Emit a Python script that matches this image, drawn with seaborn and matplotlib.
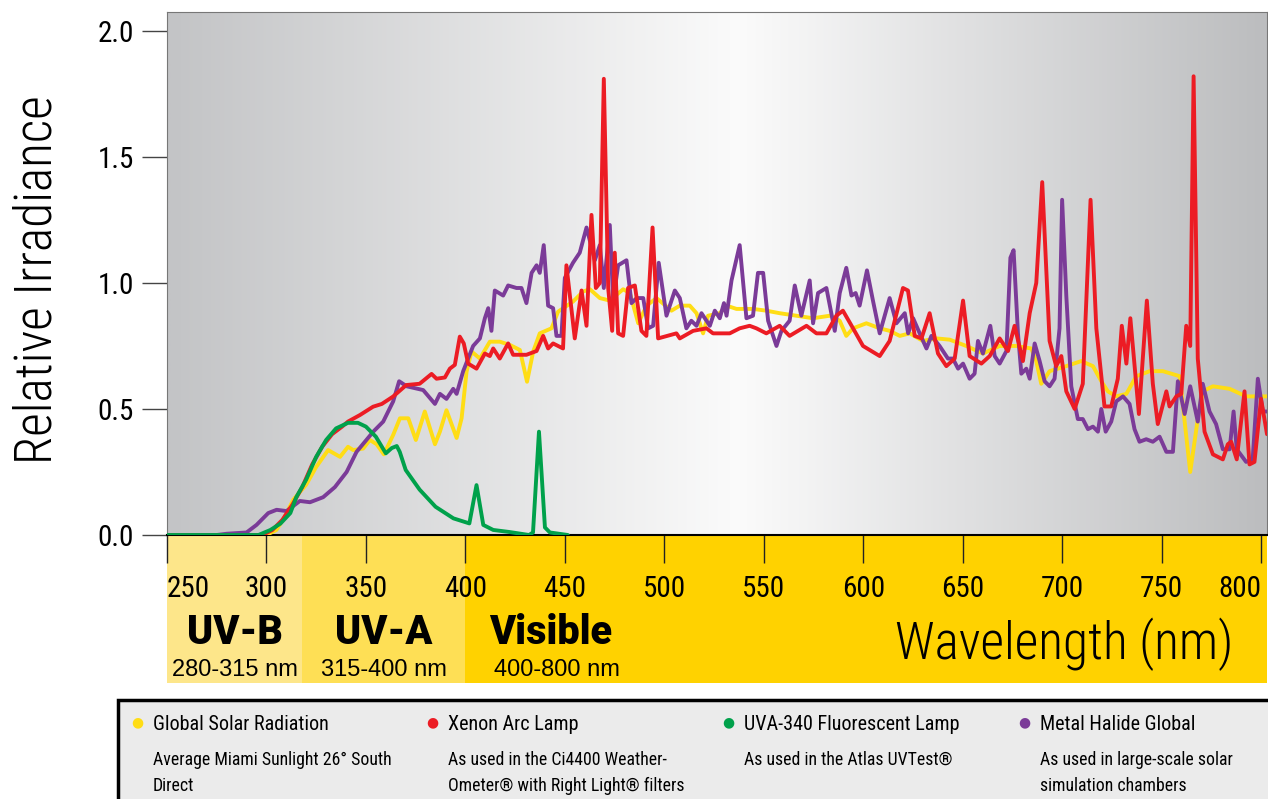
import numpy as np
import pandas as pd
import matplotlib
matplotlib.use("Agg")
import matplotlib.pyplot as plt
import seaborn as sns
from matplotlib import font_manager
from matplotlib.colors import LinearSegmentedColormap
from matplotlib.patches import Rectangle

# -------------------------------
# Data
# -------------------------------
solar_wl = [250, 300, 305, 309, 313.5, 320, 325, 331, 337, 341, 343.6, 348.6, 352, 355.4, 359, 363.7,
            367.1, 371.3, 375.1, 379.6, 384.7, 387.2, 390.5, 395.6, 398.1, 400.6, 403.1, 407.3, 412.3,
            417.3, 422.4, 427.4, 431, 434.1, 437.4, 443.3, 446.6, 454.1, 459.2, 462.6, 467.6, 472.6,
            479.3, 482.7, 486.9, 491.1, 496.1, 503.6, 507.8, 512.8, 516.2, 519.5, 522, 527.9, 531.3,
            536.3, 544.6, 551.3, 558, 566.4, 574.8, 583.2, 588.2, 591.5, 594.9, 601.6, 608.3, 613.3,
            618.4, 623.4, 630, 636.8, 643.5, 651.8, 660.2, 668.6, 677, 684.5, 687, 689.5, 693.7, 702.1,
            709.6, 715.5, 719.7, 723, 727.2, 732.3, 737.3, 744, 750.7, 759.1, 761.6, 764.4, 768.2,
            770.7, 775.8, 784.2, 792.5, 803]
solar_val = [0, 0, 0.02, 0.07, 0.14, 0.2, 0.27, 0.337, 0.31, 0.35, 0.337, 0.343, 0.377, 0.36, 0.32, 0.397,
             0.463, 0.463, 0.377, 0.49, 0.36, 0.41, 0.495, 0.385, 0.463, 0.648, 0.728, 0.70, 0.767,
             0.767, 0.754, 0.734, 0.608, 0.728, 0.80, 0.82, 0.886, 0.926, 0.966, 0.975, 0.94, 0.93,
             0.975, 0.96, 0.84, 0.91, 0.94, 0.89, 0.91, 0.91, 0.88, 0.80, 0.87, 0.88, 0.91,
             0.897, 0.897, 0.89, 0.88, 0.87, 0.86, 0.87, 0.85, 0.79, 0.82, 0.84, 0.82, 0.81,
             0.79, 0.80, 0.77, 0.78, 0.775, 0.75, 0.72, 0.75, 0.75, 0.74, 0.69, 0.60, 0.65, 0.67,
             0.69, 0.67, 0.61, 0.57, 0.55, 0.56, 0.63, 0.65, 0.65, 0.63, 0.45, 0.25, 0.46,
             0.57, 0.59, 0.58, 0.55, 0.55]

xenon_wl = [250, 298, 303, 308, 313, 318, 323, 328, 333, 338, 341, 347, 353.6, 358, 363.6, 370.3, 377,
            383, 385.5, 389.7, 392.2, 394.7, 397.2, 399.2, 401.4, 405.6, 409.8, 412.3, 414, 417.3,
            421.5, 424, 430.7, 435.8, 439.1, 441.6, 444.1, 449.1, 450.8, 455, 458.4, 460.9, 463.4,
            465.6, 467.6, 469.6, 471.8, 473.8, 475.1, 476.8, 479.3, 481.8, 485.2, 488.5, 491, 494.1,
            496.9, 506.1, 507.8, 514.5, 521.2, 524.5, 532.9, 537.9, 542.9, 546.3, 551.3, 558, 563,
            571.5, 576.5, 581.5, 586.5, 589.8, 594.9, 599.9, 608.3, 613.3, 620, 622.5, 625.9, 629.3,
            633.4, 637.6, 641.8, 646, 650.2, 653.5, 659.4, 663.6, 668.6, 672.8, 676.1, 680.3, 683.7,
            687, 690, 693.7, 697, 699.6, 702.1, 706.3, 710.4, 714.3, 717.2, 721.3, 724.7, 728, 730,
            732.3, 734.3, 738.6, 742.6, 745.6, 748.1, 752.4, 754, 757.4, 759.9, 762.4, 764.4, 766.1,
            768.2, 771.6, 775.8, 780.8, 783.3, 785, 787.8, 791.7, 794.2, 796.7, 800, 803]
xenon_val = [0, 0, 0.02, 0.06, 0.12, 0.19, 0.28, 0.35, 0.40, 0.43, 0.45, 0.476, 0.509, 0.52, 0.549,
             0.595, 0.60, 0.639, 0.62, 0.625, 0.66, 0.675, 0.787, 0.76, 0.68, 0.66, 0.72, 0.71, 0.74,
             0.70, 0.76, 0.715, 0.715, 0.73, 0.79, 0.74, 0.76, 0.74, 1.07, 0.78, 0.97, 0.83, 1.27,
             0.98, 1.0, 1.81, 0.98, 0.81, 1.12, 0.80, 0.79, 0.98, 0.99, 0.81, 0.79, 1.22,
             0.78, 0.80, 0.78, 0.81, 0.82, 0.80, 0.80, 0.82, 0.83, 0.82, 0.80, 0.83, 0.79,
             0.83, 0.80, 0.80, 0.87, 0.89, 0.82, 0.75, 0.71, 0.77, 0.98, 0.97, 0.79, 0.78,
             0.88, 0.72, 0.67, 0.70, 0.93, 0.71, 0.68, 0.71, 0.78, 0.73, 0.83, 0.69, 0.88,
             1.00, 1.40, 0.77, 0.67, 0.71, 0.57, 0.50, 0.60, 1.33, 0.82, 0.51, 0.51, 0.62, 0.83,
             0.68, 0.86, 0.48, 0.93, 0.60, 0.44, 0.57, 0.51, 0.55, 0.56, 0.83, 0.75, 1.82,
             0.70, 0.41, 0.32, 0.30, 0.36, 0.37, 0.30, 0.57, 0.28, 0.29, 0.54, 0.40]

uva_wl = [250, 296, 302, 307, 312, 315, 320, 325, 330, 335, 341, 346, 350, 355, 360, 363, 365.5, 367,
          370, 377, 385, 394, 402, 405.6, 409, 414, 422, 432, 434, 437, 440, 442.5, 451.5]
uva_val = [0, 0, 0.02, 0.045, 0.087, 0.15, 0.22, 0.31, 0.377, 0.423, 0.445, 0.445, 0.43, 0.39, 0.324,
           0.345, 0.353, 0.33, 0.258, 0.18, 0.112, 0.066, 0.046, 0.198, 0.04, 0.02, 0.012, 0.0, 0.01,
           0.41, 0.03, 0.01, 0.0]

halide_wl = [250, 275, 280, 290, 295, 300.9, 305.1, 310.1, 316.8, 321.9, 328.5, 334.4, 340.3, 345.3,
             349.5, 353.7, 358.7, 363.7, 366.7, 370.5, 378.8, 384.7, 387.2, 390.5, 393.9, 395.6, 398.9,
             403.9, 407.3, 409.8, 411.5, 413.1, 414.8, 419, 421.5, 425.7, 428.2, 430.7, 433.3, 435.8,
             437.4, 439.4, 441.6, 444.1, 445.8, 448.3, 450, 454.1, 457.5, 460.9, 465.1, 467.6, 469.6,
             472.6, 474.3, 476.8, 481, 483.5, 486.1, 489.4, 491.9, 494.4, 497.2, 501.1, 505.3, 507.8,
             511.1, 513.6, 516.2, 518.7, 522.9, 525.4, 527.9, 530, 531.3, 533.8, 537.9, 541.3, 544.6,
             547.1, 549.7, 552.2, 556.4, 558.9, 563, 565.6, 568.9, 573.1, 574.8, 577.3, 581.5, 585.7,
             588.2, 591.5, 594.1, 596.2, 598.2, 601.9, 604.9, 608.3, 613.3, 616.7, 620.9, 622.6, 625.1,
             628.4, 631.8, 634.3, 638.4, 642.6, 645.1, 647.7, 650.2, 653.5, 656, 657.7, 660.2, 663.9,
             666.1, 668.6, 672, 674, 675.6, 677.8, 679.5, 682, 683.7, 686.2, 688.7, 691.2, 693.7,
             696.2, 698.7, 700, 702.1, 704.6, 707.9, 710.4, 713, 715.5, 718, 719.7, 721.9, 724.7,
             727.2, 730.6, 733.9, 736.4, 738.9, 742.3, 745.6, 749, 752.4, 755.7, 758.2, 761.6, 764.4,
             768.2, 770.7, 774.1, 777.4, 780.8, 784.2, 786.2, 787.8, 792.5, 795.8, 798.4, 800.9, 803]
halide_val = [0, 0, 0.005, 0.01, 0.04, 0.087, 0.10, 0.095, 0.135, 0.13, 0.15, 0.19, 0.25, 0.33,
              0.37, 0.41, 0.45, 0.53, 0.61, 0.59, 0.575, 0.52, 0.56, 0.54, 0.58, 0.56, 0.65,
              0.75, 0.78, 0.86, 0.90, 0.81, 0.97, 0.95, 0.99, 0.98, 0.98, 0.92, 1.04, 1.07,
              1.04, 1.15, 0.91, 0.90, 0.79, 0.79, 1.02, 1.08, 1.12, 1.22, 1.09, 1.15, 0.98,
              1.23, 0.93, 1.07, 1.09, 0.92, 0.94, 0.94, 0.82, 0.83, 1.08, 0.87, 0.97, 0.94,
              0.82, 0.85, 0.83, 0.88, 0.83, 0.89, 0.86, 0.92, 0.87, 1.01, 1.15, 0.86, 0.87,
              1.04, 1.04, 0.85, 0.75, 0.81, 0.85, 0.99, 0.87, 1.01, 0.84, 0.96, 0.98, 0.81,
              0.96, 1.06, 0.95, 0.96, 0.91, 1.05, 0.93, 0.80, 0.94, 0.84, 0.88, 0.80, 0.86,
              0.80, 0.74, 0.79, 0.75, 0.70, 0.70, 0.66, 0.68, 0.62, 0.64, 0.77, 0.72, 0.83,
              0.71, 0.68, 0.73, 1.10, 1.13, 0.80, 0.64, 0.66, 0.62, 0.76, 0.69, 0.61, 0.59,
              0.62, 0.82, 1.33, 0.95, 0.59, 0.46, 0.46, 0.42, 0.43, 0.41, 0.50, 0.41, 0.45,
              0.53, 0.55, 0.52, 0.42, 0.37, 0.38, 0.37, 0.39, 0.33, 0.33, 0.61, 0.48, 0.59,
              0.45, 0.60, 0.49, 0.44, 0.34, 0.34, 0.49, 0.34, 0.29, 0.30, 0.62, 0.49, 0.49]

x_ticks = [250, 300, 350, 400, 450, 500, 550, 600, 650, 700, 750, 800]
y_ticks = [0.0, 0.5, 1.0, 1.5, 2.0]

band_edges = [250, 318, 400, 803]
band_names = ["UV-B", "UV-A", "Visible"]
band_ranges = ["280-315 nm", "315-400 nm", "400-800 nm"]
band_colors = ["#fde68a", "#fedf55", "#ffd200"]

series_names = ["Global Solar Radiation", "Xenon Arc Lamp", "UVA-340 Fluorescent Lamp", "Metal Halide Global"]
series_notes = ["Average Miami Sunlight 26° South\nDirect",
                "As used in the Ci4400 Weather-\nOmeter® with Right Light® filters",
                "As used in the Atlas UVTest®",
                "As used in large-scale solar\nsimulation chambers"]
series_colors = ["#ffdd15", "#ec1c24", "#00a14b", "#7b3b98"]

# -------------------------------
# Fonts / style
# -------------------------------
sns.set_style("ticks")
names = set(font_manager.get_font_names())
cond = next(f for f in ["Roboto Condensed", "Liberation Sans Narrow", "DejaVu Sans Condensed", "DejaVu Sans"]
            if f in names)
heavy = "Roboto" if "Roboto" in names else "DejaVu Sans"
plain = "Liberation Sans" if "Liberation Sans" in names else "DejaVu Sans"
plt.rcParams["font.family"] = [cond, "DejaVu Sans"]
plt.rcParams["text.color"] = "black"
plt.rcParams["xtick.labelcolor"] = "black"
plt.rcParams["ytick.labelcolor"] = "black"

W, H = 1268, 799
fig = plt.figure(figsize=(W / 100, H / 100), dpi=100)


def fx(px):
    return px / W


def fy(py):
    return 1 - py / H


# band axes (below the plot)
bax = fig.add_axes([fx(167), fy(683), fx(1100), (683 - 535) / H])
bax.set_xlim(250, 803)
bax.set_ylim(0, 1)
for i in range(3):
    bax.axvspan(band_edges[i], band_edges[i + 1], color=band_colors[i], lw=0)
    cx = (band_edges[i] + band_edges[i + 1]) / 2 if i < 2 else 443
    bax.text(cx, 0.34, band_names[i], ha="center", va="center", fontsize=28.5,
             fontweight=900, family=[heavy, "DejaVu Sans"])
    bax.text(cx if i < 2 else 446, 0.09, band_ranges[i], ha="center", va="center", fontsize=17,
             family=[plain, "DejaVu Sans"])
bax.text(701, 0.26, "Wavelength (nm)", ha="center", va="center", fontsize=37, fontweight="light")
bax.axis("off")

# main axes
ax = fig.add_axes([fx(167), fy(535), fx(1100), (535 - 12) / H])
ax.set_zorder(bax.get_zorder() + 1)
ax.set_xlim(250, 803)
ax.set_ylim(0, 2.075)

grad = LinearSegmentedColormap.from_list(
    "bg", [(0, "#c3c4c6"), (0.52, "#fbfbfb"), (1, "#bcbdbf")])
ax.imshow(np.linspace(0, 1, 400)[None, :], cmap=grad, aspect="auto",
          extent=[250, 803, 0, 2.075], zorder=0)

frames = [
    pd.DataFrame({"wl": solar_wl, "val": solar_val}),
    pd.DataFrame({"wl": xenon_wl, "val": xenon_val}),
    pd.DataFrame({"wl": uva_wl, "val": uva_val}),
    pd.DataFrame({"wl": halide_wl, "val": halide_val}),
]
order = [0, 3, 1, 2]  # yellow, purple, red, green on top
for k in order:
    sns.lineplot(data=frames[k], x="wl", y="val", color=series_colors[k], lw=2.8,
                 ax=ax, zorder=3 + order.index(k), estimator=None)

ax.set_xticks(x_ticks)
ax.set_xticklabels([str(t) for t in x_ticks])
ax.set_yticks(y_ticks)
ax.set_yticklabels([f"{t:.1f}" for t in y_ticks])
ax.set_xlabel("")
ax.set_ylabel("")
ax.tick_params(axis="x", direction="out", length=20, width=1, pad=9, labelsize=21, color="#222222")
ax.tick_params(axis="y", direction="out", length=18, width=1, pad=6, labelsize=21, color="#444444")
xl = ax.get_xticklabels()
xl[0].set_ha("left")
xl[-1].set_ha("right")
for s in ["top", "right", "left"]:
    ax.spines[s].set_color("#777777")
    ax.spines[s].set_linewidth(0.8)
ax.spines["bottom"].set_color("black")
ax.spines["bottom"].set_linewidth(1.5)

fig.text(fx(38), fy(280), "Relative Irradiance", rotation=90, ha="center", va="center",
         fontsize=37, fontweight="light")

# legend box
fig.patches.append(Rectangle((fx(118), fy(830)), fx(1200), (830 - 700) / H, transform=fig.transFigure,
                             facecolor="#ebebeb", edgecolor="black", lw=2.5, zorder=0))
col_x = [137, 432, 728, 1024]
for i in range(4):
    fig.text(fx(col_x[i]), fy(722), "●", color=series_colors[i], ha="center", va="center",
             fontsize=10, family="DejaVu Sans")
    fig.text(fx(col_x[i] + 16), fy(725), series_names[i], ha="left", va="center", fontsize=14.5)
    fig.text(fx(col_x[i] + 16), fy(751), series_notes[i], ha="left", va="top", fontsize=12.8,
             linespacing=1.55)

fig.savefig("out.png", dpi=100)
